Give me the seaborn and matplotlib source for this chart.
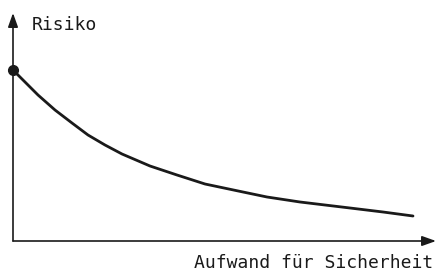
import numpy as np
import pandas as pd
import seaborn as sns
import matplotlib.pyplot as plt

# Curve (arbitrary units: effort vs. risk)
aufwand = [0, 12, 25, 42, 59, 75, 92, 109, 137, 164, 192, 230, 254, 287, 337, 370, 400]
risiko = [171, 159, 146, 131, 118, 106, 96, 87, 75, 66, 57, 49, 44, 39, 33, 29, 25]
x_label = "Aufwand für Sicherheit"
y_label = "Risiko"

df = pd.DataFrame({"aufwand": aufwand, "risiko": risiko})

sns.set_style("white")
plt.rcParams['font.family'] = ['DejaVu Sans Mono', 'DejaVu Sans']

fig = plt.figure(figsize=(4.39, 2.71), dpi=100)
ax = fig.add_axes([13 / 439, 30 / 271, 423 / 439, 228 / 271])
ax.set_xlim(0, 423)
ax.set_ylim(0, 228)
ax.axis("off")

# axes as arrows
for tip in [(1, 0), (0, 1)]:
    ax.annotate("", xy=tip, xytext=(0, 0), xycoords="axes fraction",
                arrowprops=dict(arrowstyle="-|>,head_length=0.7,head_width=0.25",
                                color="#1a1a1a", lw=1.2,
                                mutation_scale=12, shrinkA=0, shrinkB=0))

sns.lineplot(data=df, x="aufwand", y="risiko", color="#1a1a1a", lw=2, ax=ax)
ax.plot(aufwand[0], risiko[0], "o", color="#1a1a1a", ms=7, clip_on=False)

fig.text(32 / 439, 1 - 30 / 271, y_label, fontsize=13, ha="left", va="baseline", color="#1a1a1a")
fig.text(433 / 439, 1 - 268 / 271, x_label, fontsize=13, ha="right", va="baseline", color="#1a1a1a")

fig.savefig("out.png", dpi=100)
